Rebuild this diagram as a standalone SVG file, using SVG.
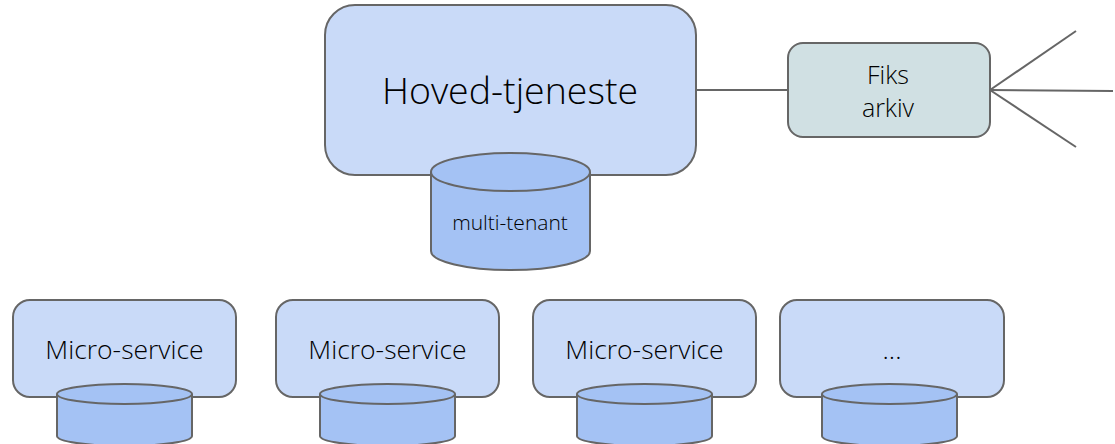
<svg xmlns="http://www.w3.org/2000/svg" width="1115" height="444" viewBox="0 0 1115 444">
<style>
.box{fill:#c9daf8;stroke:#666;stroke-width:2}
.cyl{fill:#a4c2f4;stroke:#666;stroke-width:2}
.fiks{fill:#d0e0e3;stroke:#666;stroke-width:2}
.edge{stroke:#666;stroke-width:2;fill:none}
text{font-family:"Open Sans","Noto Sans",sans-serif;font-weight:300;fill:#000;text-anchor:middle}
</style>
<g id="connectors">
<line class="edge" x1="696" y1="90" x2="788" y2="90"/>
<line class="edge" x1="990" y1="90" x2="1076" y2="31"/>
<line class="edge" x1="990" y1="90" x2="1113" y2="91"/>
<line class="edge" x1="990" y1="90" x2="1076" y2="147"/>
</g>
<g id="hoved">
<rect class="box" x="325" y="5" width="371" height="170" rx="30"/>
<text x="510" y="104" font-size="37.5">Hoved-tjeneste</text>
</g>
<g id="multi-tenant">
<path class="cyl" d="M431,172 L431,251 A79.5,19 0 0 0 590,251 L590,172"/>
<ellipse class="cyl" cx="510.5" cy="172" rx="79.5" ry="19"/>
<text x="510" y="230" font-size="21">multi-tenant</text>
</g>
<g id="fiks">
<rect class="fiks" x="788" y="43" width="202" height="94" rx="15"/>
<text x="888" y="84" font-size="25">Fiks</text>
<text x="888" y="117" font-size="25">arkiv</text>
</g>
<g id="ms1">
<rect class="box" x="13" y="300" width="223" height="97" rx="17"/>
<text x="124.5" y="359" font-size="26.5">Micro-service</text>
<path class="cyl" d="M57,394 L57,436 A67.5,10 0 0 0 192,436 L192,394"/>
<ellipse class="cyl" cx="124.5" cy="394" rx="67.5" ry="10"/>
</g>
<g id="ms2">
<rect class="box" x="276" y="300" width="223" height="97" rx="17"/>
<text x="387.5" y="359" font-size="26.5">Micro-service</text>
<path class="cyl" d="M320,394 L320,436 A67.5,10 0 0 0 455,436 L455,394"/>
<ellipse class="cyl" cx="387.5" cy="394" rx="67.5" ry="10"/>
</g>
<g id="ms3">
<rect class="box" x="533" y="300" width="223" height="97" rx="17"/>
<text x="644.5" y="359" font-size="26.5">Micro-service</text>
<path class="cyl" d="M577,394 L577,436 A67.5,10 0 0 0 712,436 L712,394"/>
<ellipse class="cyl" cx="644.5" cy="394" rx="67.5" ry="10"/>
</g>
<g id="ms4">
<rect class="box" x="780" y="300" width="224" height="97" rx="17"/>
<text x="892" y="359" font-size="26.5">...</text>
<path class="cyl" d="M822,394 L822,436 A67.5,10 0 0 0 957,436 L957,394"/>
<ellipse class="cyl" cx="889.5" cy="394" rx="67.5" ry="10"/>
</g>
</svg>
